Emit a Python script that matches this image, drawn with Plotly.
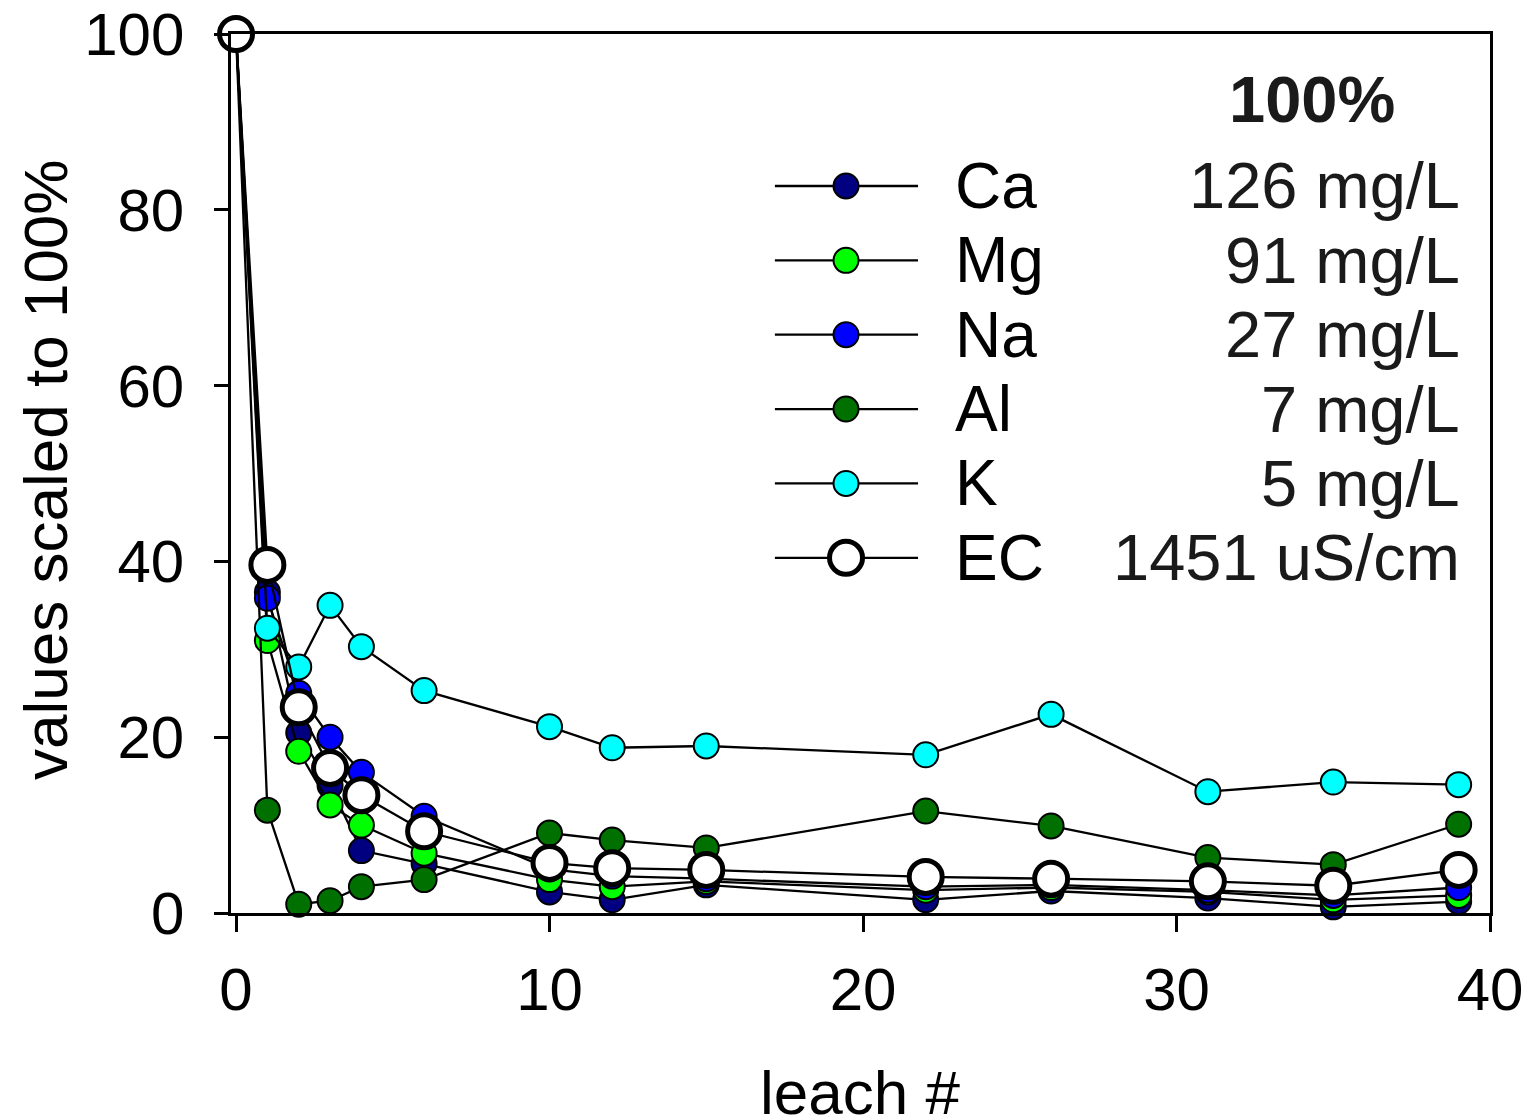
import plotly.graph_objects as go

# Leach sequence and concentrations scaled to the first leach (=100%)
leach = [0, 1, 2, 3, 4, 6, 10, 12, 15, 22, 26, 31, 35, 39]
ca = [100, 36.5, 20.5, 14.5, 7.1, 5.6, 2.4, 1.5, 3.2, 1.5, 2.5, 1.7, 0.7, 1.3]
mg = [100, 31.0, 18.4, 12.3, 10.0, 6.8, 3.8, 3.0, 3.6, 2.6, 2.9, 2.4, 1.5, 2.0]
na = [100, 35.8, 25.0, 20.0, 16.0, 11.0, 5.0, 4.2, 3.9, 3.0, 3.2, 2.6, 2.0, 2.9]
al = [100, 11.7, 1.0, 1.4, 3.0, 3.8, 9.1, 8.3, 7.4, 11.6, 9.9, 6.3, 5.5, 10.1]
k = [100, 32.4, 28.0, 35.0, 30.3, 25.3, 21.2, 18.8, 19.0, 18.0, 22.6, 13.8, 14.9, 14.6]
ec = [100, 39.6, 23.4, 16.5, 13.4, 9.3, 5.7, 5.1, 4.9, 4.1, 3.9, 3.6, 3.1, 4.9]

names = ["Ca", "Mg", "Na", "Al", "K", "EC"]
full_values = ["126 mg/L", "91 mg/L", "27 mg/L", "7 mg/L", "5 mg/L", "1451 uS/cm"]
series = [ca, mg, na, al, k, ec]
fills = ["#000080", "#00ff00", "#0000ff", "#007000", "#00ffff", "#ffffff"]

FONT = "Liberation Sans, Arial, sans-serif"


def marker_style(name, fill):
    is_ec = name == "EC"
    return dict(symbol="circle", color=fill,
                size=33 if is_ec else 25,
                line=dict(color="black", width=5 if is_ec else 2))


fig = go.Figure()

for name, ys, fill in zip(names, series, fills):
    fig.add_trace(go.Scatter(
        x=leach, y=ys, mode="lines+markers", name=name,
        line=dict(color="black", width=2.3),
        marker=marker_style(name, fill),
        cliponaxis=False, showlegend=False,
    ))

# Hand-drawn key in an overlay frame spanning the plot area (0..1)
row_top, row_step = 0.8271, 0.0846
for i, (name, fill) in enumerate(zip(names, fills)):
    yy = row_top - i * row_step
    fig.add_trace(go.Scatter(
        x=[0.432, 0.5457], y=[yy, yy], mode="lines",
        line=dict(color="black", width=2.3),
        xaxis="x2", yaxis="y2", showlegend=False, cliponaxis=False,
    ))
    fig.add_trace(go.Scatter(
        x=[0.4885], y=[yy], mode="markers",
        marker=marker_style(name, fill),
        xaxis="x2", yaxis="y2", showlegend=False, cliponaxis=False,
    ))
    fig.add_annotation(x=0.5735, y=yy, xref="x2", yref="y2", text=name,
                       showarrow=False, xanchor="left", yanchor="middle",
                       font=dict(family=FONT, size=64, color="black"))
    fig.add_annotation(x=0.978, y=yy, xref="x2", yref="y2", text=full_values[i],
                       showarrow=False, xanchor="right", yanchor="middle",
                       font=dict(family=FONT, size=65, color="#1a1a1a"))

fig.add_annotation(x=0.9265, y=0.925, xref="x2", yref="y2", text="<b>100%</b>",
                   showarrow=False, xanchor="right", yanchor="middle",
                   font=dict(family=FONT, size=65, color="#1a1a1a"))

# Axis titles
fig.add_annotation(x=-0.147, y=0.504, xref="paper", yref="paper",
                   text="values scaled to 100%", textangle=-90,
                   showarrow=False, xanchor="center", yanchor="middle",
                   font=dict(family=FONT, size=62, color="black"))
fig.add_annotation(x=0.4996, y=-0.204, xref="paper", yref="paper",
                   text="leach #", showarrow=False,
                   xanchor="center", yanchor="middle",
                   font=dict(family=FONT, size=62, color="black"))

axis_common = dict(showgrid=False, zeroline=False, showline=True, mirror=True,
                   linecolor="black", linewidth=2.5, ticks="outside",
                   tickcolor="black", tickwidth=2.5, automargin=False,
                   tickfont=dict(family=FONT, size=60, color="black"))

fig.update_layout(
    width=1534, height=1119,
    margin=dict(l=231, r=44, t=34, b=206),
    paper_bgcolor="white", plot_bgcolor="white",
    xaxis=dict(range=[-0.16, 40], tickvals=[0, 10, 20, 30, 40], ticklen=16,
               ticklabelstandoff=6, **axis_common),
    yaxis=dict(range=[0, 100], tickvals=[0, 20, 40, 60, 80, 100], ticklen=14,
               ticklabelstandoff=18, **axis_common),
    xaxis2=dict(range=[0, 1], overlaying="x", visible=False),
    yaxis2=dict(range=[0, 1], overlaying="y", visible=False),
)

fig.write_html("out.html")
